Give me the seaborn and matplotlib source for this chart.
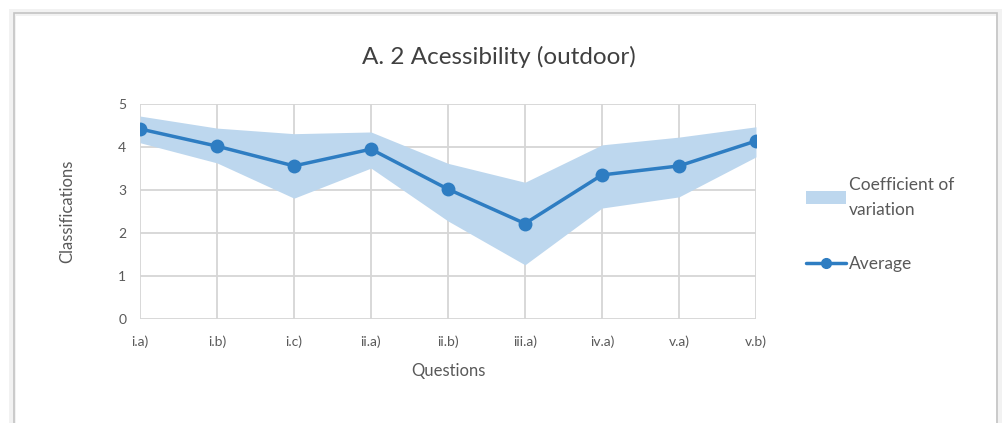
import numpy as np
import pandas as pd
import seaborn as sns
import matplotlib.pyplot as plt
from matplotlib.patches import Patch, Rectangle
from matplotlib.lines import Line2D

questions = ['i.a)', 'i.b)', 'i.c)', 'ii.a)', 'ii.b)', 'iii.a)', 'iv.a)', 'v.a)', 'v.b)']
average = [4.42, 4.02, 3.56, 3.95, 3.02, 2.22, 3.35, 3.56, 4.14]
cv_upper = [4.72, 4.44, 4.31, 4.35, 3.62, 3.18, 4.05, 4.23, 4.47]
cv_lower = [4.10, 3.63, 2.81, 3.51, 2.28, 1.26, 2.58, 2.84, 3.77]

sns.set_style('white')
plt.rcParams['font.family'] = ['Lato', 'DejaVu Sans']

line_color = '#2E7DC2'
band_color = '#BDD7EE'
text_color = '#595959'

df = pd.DataFrame({'Questions': questions, 'Average': average})
x = np.arange(len(questions))

fig = plt.figure(figsize=(10.03, 4.23), dpi=100)
ax = fig.add_axes([0.1396, 0.2459, 0.6141, 0.5082])

ax.fill_between(x, cv_lower, cv_upper, color=band_color, linewidth=0, zorder=2)
sns.lineplot(x=x, y=df['Average'], ax=ax, color=line_color, linewidth=2.5,
             marker='o', markersize=10, markeredgewidth=0, zorder=3)

ax.set_xlim(0, len(questions) - 1)
ax.set_ylim(0, 5)
ax.set_xticks(x)
ax.set_xticklabels(questions)
ax.set_yticks(range(6))
ax.grid(True, color='#D6D6D6', linewidth=1.3, zorder=1)
ax.set_axisbelow(True)
for s in ax.spines.values():
    s.set_visible(False)
ax.tick_params(length=0, colors=text_color, labelsize=10)
ax.tick_params(axis='x', pad=12)
ax.tick_params(axis='y', pad=10)
ax.set_xlabel('Questions', fontsize=12, color=text_color, labelpad=11)
ax.set_ylabel('Classifications', fontsize=12, color=text_color, labelpad=31)
fig.text(0.497, 0.865, 'A. 2 Acessibility (outdoor)', ha='center', va='center',
         fontsize=17.5, color='#404040')

handles = [Patch(facecolor=band_color, edgecolor='none'),
           Line2D([0], [0], color=line_color, linewidth=2.5, marker='o', markersize=7)]
leg = fig.legend(handles, ['Coefficient of\nvariation', 'Average'],
                 loc='center left', bbox_to_anchor=(0.788, 0.47), frameon=False,
                 fontsize=12.5, labelspacing=2.2, handlelength=2.3, handletextpad=0.15)
for t in leg.get_texts():
    t.set_color(text_color)
    t.set_linespacing(1.7)

# outer frame with a soft shadow
fig.patches.append(Rectangle((0.012, -0.05), 0.984, 1.022, transform=fig.transFigure,
                             facecolor='none', edgecolor='#F2F2F2', linewidth=5, zorder=0))
fig.patches.append(Rectangle((0.014, -0.05), 0.980, 1.02, transform=fig.transFigure,
                             facecolor='none', edgecolor='#C4C4C4', linewidth=1.2, zorder=0))

fig.savefig('out.png', dpi=100)
